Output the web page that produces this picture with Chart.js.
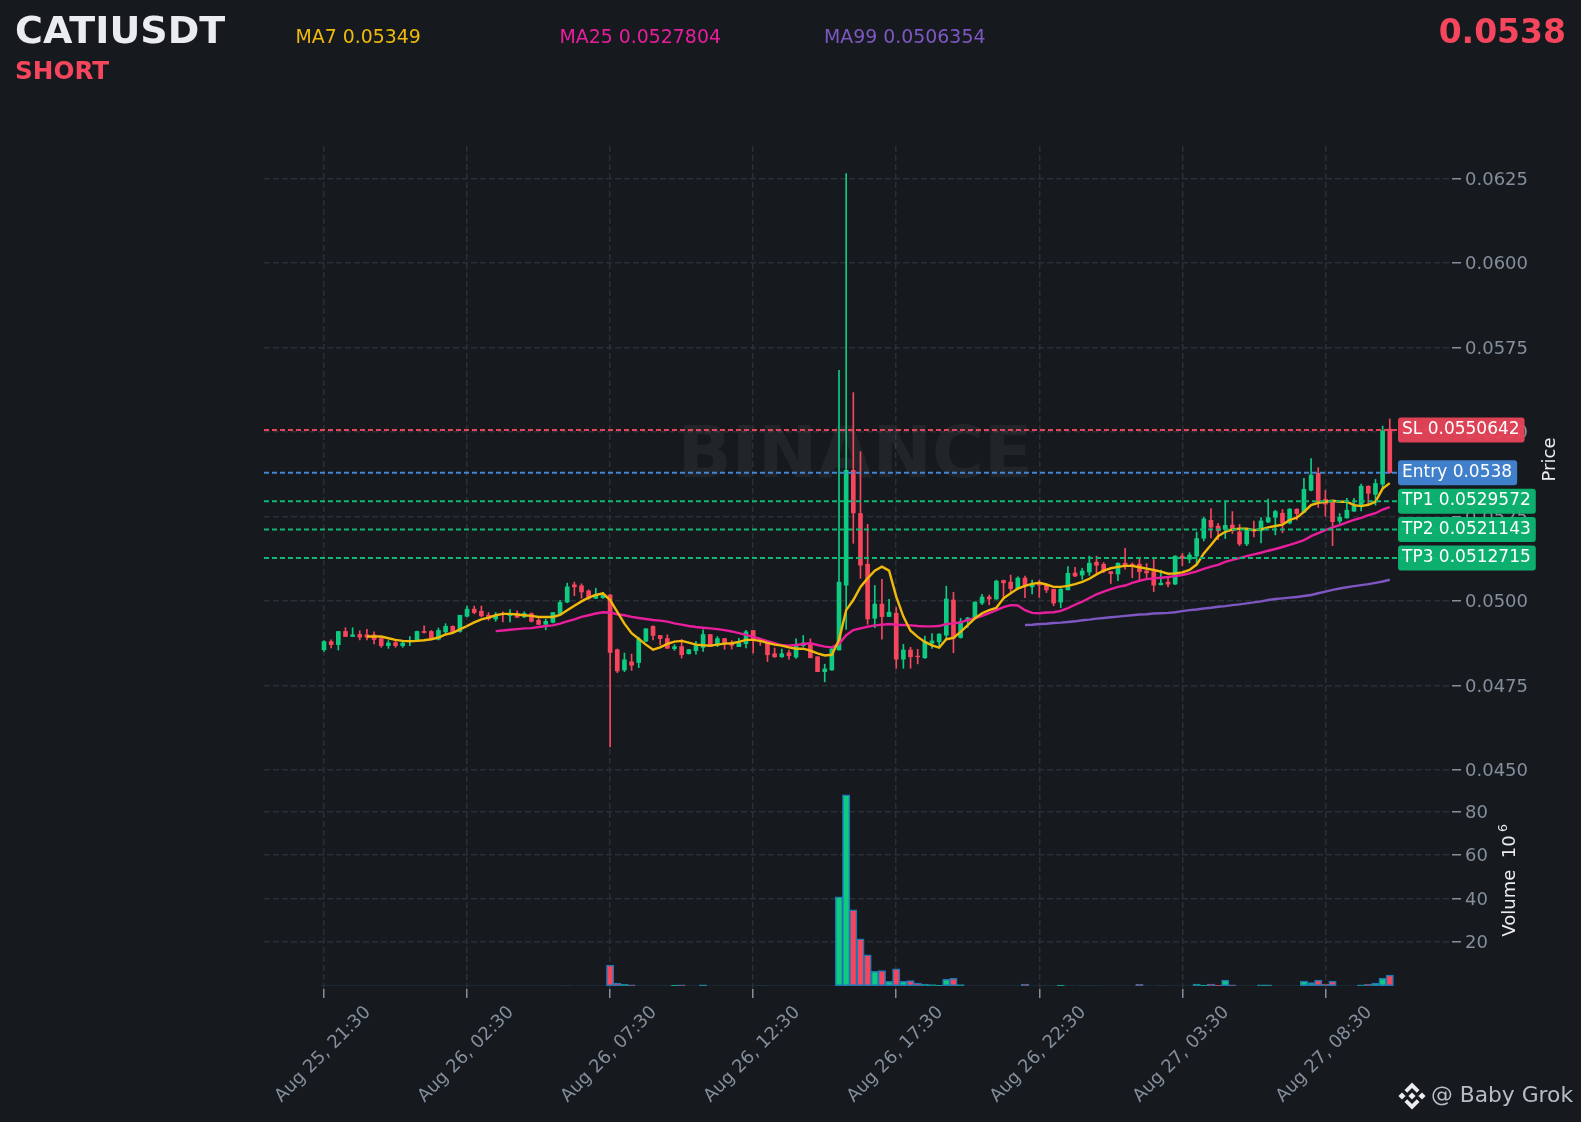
<!DOCTYPE html>
<html>
<head>
<meta charset="utf-8">
<title>CATIUSDT</title>
<script src="https://cdn.jsdelivr.net/npm/chart.js@4"></script>
<style>
    html, body { margin: 0; padding: 0; background: #161a1e; }
    #wrap { position: relative; width: 1581px; height: 1122px; overflow: hidden; font-family: "DejaVu Sans", sans-serif; }
    canvas { position: absolute; left: 0; top: 0; }
    .head { position: absolute; white-space: nowrap; line-height: 1; }
</style>
</head>
<body>
<div id="wrap">
    <canvas id="plot" width="1581" height="1122"></canvas>
    <div class="head" style="left:15px;top:10.5px;font-size:38px;font-weight:bold;color:#eaecef">CATIUSDT</div>
    <div class="head" style="left:15px;top:59px;font-size:24.7px;font-weight:bold;color:#f6465d">SHORT</div>
    <div class="head" style="left:295.5px;top:26.5px;font-size:18.9px;color:#f0b90b">MA7 0.05349</div>
    <div class="head" style="left:559.5px;top:26.5px;font-size:18.9px;color:#e91e9c">MA25 0.0527804</div>
    <div class="head" style="left:824px;top:26.5px;font-size:18.9px;color:#7e57c2">MA99 0.0506354</div>
    <div class="head" style="right:15px;top:15px;font-size:33px;font-weight:bold;color:#f6465d">0.0538</div>
</div>
<script>
const tickLabels = ['Aug 25, 21:30', 'Aug 26, 02:30', 'Aug 26, 07:30', 'Aug 26, 12:30',
    'Aug 26, 17:30', 'Aug 26, 22:30', 'Aug 27, 03:30', 'Aug 27, 08:30'];
const priceTicks = [0.045, 0.0475, 0.05, 0.0525, 0.055, 0.0575, 0.06, 0.0625];
const volumeTicks = [20, 40, 60, 80];

const opens = [
    0.04856,0.04880,0.04871,0.04910,0.04895,0.04901,0.04900,0.04900,0.04889,0.04868,
    0.04877,0.04868,0.04881,0.04883,0.04910,0.04910,0.04887,0.04909,0.04925,0.04910,
    0.04955,0.04976,0.04970,0.04958,0.04947,0.04963,0.04957,0.04963,0.04953,0.04963,
    0.04943,0.04931,0.04937,0.04963,0.04997,0.05048,0.05045,0.05030,0.05008,0.05010,
    0.05018,0.04856,0.04796,0.04820,0.04818,0.04881,0.04925,0.04898,0.04889,0.04859,
    0.04865,0.04844,0.04853,0.04863,0.04901,0.04870,0.04889,0.04873,0.04865,0.04874,
    0.04913,0.04885,0.04875,0.04844,0.04835,0.04847,0.04834,0.04868,0.04876,0.04835,
    0.04791,0.04796,0.04855,0.05047,0.05387,0.05259,0.05109,0.04949,0.04991,0.04954,
    0.04964,0.04828,0.04855,0.04837,0.04832,0.04875,0.04879,0.04899,0.05003,0.04892,
    0.04945,0.04949,0.04994,0.05012,0.05006,0.05061,0.05056,0.05037,0.05068,0.05042,
    0.05049,0.05047,0.05035,0.04997,0.05033,0.05083,0.05077,0.05086,0.05115,0.05109,
    0.05087,0.05080,0.05112,0.05109,0.05109,0.05089,0.05087,0.05048,0.05056,0.05050,
    0.05133,0.05124,0.05133,0.05186,0.05239,0.05222,0.05212,0.05225,0.05205,0.05169,
    0.05210,0.05208,0.05234,0.05248,0.05260,0.05231,0.05272,0.05263,0.05328,0.05378,
    0.05301,0.05292,0.05237,0.05246,0.05266,0.05279,0.05340,0.05316,0.05346,0.05509];
const closes = [
    0.04880,0.04871,0.04910,0.04895,0.04900,0.04893,0.04893,0.04886,0.04868,0.04876,
    0.04868,0.04876,0.04883,0.04910,0.04907,0.04890,0.04913,0.04925,0.04908,0.04958,
    0.04976,0.04966,0.04956,0.04948,0.04957,0.04960,0.04961,0.04952,0.04963,0.04940,
    0.04931,0.04940,0.04966,0.04996,0.05042,0.05042,0.05027,0.05008,0.05020,0.05018,
    0.04848,0.04793,0.04826,0.04810,0.04888,0.04918,0.04898,0.04889,0.04860,0.04865,
    0.04841,0.04856,0.04868,0.04901,0.04865,0.04889,0.04873,0.04869,0.04875,0.04909,
    0.04884,0.04880,0.04841,0.04835,0.04844,0.04838,0.04868,0.04876,0.04832,0.04791,
    0.04799,0.04858,0.05056,0.05387,0.05261,0.05106,0.04947,0.04991,0.04954,0.04967,
    0.04828,0.04855,0.04835,0.04835,0.04880,0.04882,0.04902,0.05006,0.04890,0.04939,
    0.04950,0.04997,0.05012,0.05006,0.05059,0.05054,0.05037,0.05068,0.05045,0.05049,
    0.05047,0.05033,0.04994,0.05035,0.05082,0.05074,0.05089,0.05112,0.05106,0.05088,
    0.05081,0.05112,0.05106,0.05107,0.05087,0.05083,0.05047,0.05053,0.05050,0.05133,
    0.05126,0.05136,0.05185,0.05243,0.05219,0.05208,0.05224,0.05208,0.05169,0.05210,
    0.05207,0.05237,0.05247,0.05265,0.05231,0.05272,0.05259,0.05331,0.05373,0.05291,
    0.05287,0.05235,0.05248,0.05269,0.05282,0.05340,0.05319,0.05348,0.05504,0.05380];
const highs = [
    0.04883,0.04885,0.04910,0.04921,0.04921,0.04912,0.04916,0.04909,0.04895,0.04883,
    0.04883,0.04883,0.04895,0.04911,0.04927,0.04913,0.04920,0.04933,0.04927,0.04958,
    0.04985,0.04985,0.04985,0.04966,0.04966,0.04968,0.04975,0.04971,0.04968,0.04965,
    0.04948,0.04947,0.04966,0.05002,0.05053,0.05056,0.05051,0.05033,0.05038,0.05026,
    0.05020,0.04858,0.04846,0.04843,0.04893,0.04918,0.04927,0.04898,0.04900,0.04871,
    0.04886,0.04857,0.04881,0.04915,0.04901,0.04895,0.04889,0.04883,0.04890,0.04913,
    0.04913,0.04887,0.04875,0.04861,0.04858,0.04855,0.04888,0.04898,0.04888,0.04835,
    0.04813,0.04860,0.05683,0.06265,0.05617,0.05442,0.05227,0.05046,0.05064,0.05005,
    0.04981,0.04872,0.04863,0.04857,0.04896,0.04904,0.04904,0.05044,0.05026,0.04949,
    0.04952,0.04998,0.05020,0.05018,0.05062,0.05062,0.05077,0.05072,0.05074,0.05062,
    0.05062,0.05047,0.05035,0.05037,0.05102,0.05100,0.05097,0.05133,0.05133,0.05114,
    0.05088,0.05113,0.05156,0.05113,0.05126,0.05111,0.05123,0.05092,0.05069,0.05134,
    0.05141,0.05143,0.05204,0.05248,0.05274,0.05230,0.05296,0.05265,0.05227,0.05212,
    0.05237,0.05247,0.05302,0.05269,0.05271,0.05274,0.05273,0.05363,0.05422,0.05395,
    0.05328,0.05292,0.05259,0.05304,0.05304,0.05346,0.05341,0.05360,0.05518,0.05539];
const lows = [
    0.04851,0.04861,0.04855,0.04895,0.04895,0.04885,0.04885,0.04873,0.04863,0.04860,
    0.04863,0.04863,0.04868,0.04882,0.04905,0.04888,0.04885,0.04903,0.04906,0.04908,
    0.04953,0.04962,0.04953,0.04943,0.04940,0.04938,0.04938,0.04951,0.04951,0.04938,
    0.04930,0.04915,0.04935,0.04963,0.04995,0.05016,0.05008,0.05005,0.05008,0.05008,
    0.04568,0.04788,0.04791,0.04795,0.04803,0.04880,0.04885,0.04870,0.04860,0.04854,
    0.04831,0.04843,0.04843,0.04851,0.04865,0.04865,0.04857,0.04858,0.04865,0.04861,
    0.04846,0.04869,0.04821,0.04833,0.04833,0.04827,0.04830,0.04865,0.04832,0.04791,
    0.04761,0.04795,0.04855,0.04916,0.05171,0.05067,0.04931,0.04921,0.04887,0.04954,
    0.04801,0.04801,0.04801,0.04814,0.04830,0.04860,0.04865,0.04887,0.04847,0.04890,
    0.04922,0.04947,0.04989,0.04989,0.05005,0.05006,0.05028,0.05035,0.05010,0.05021,
    0.05011,0.05025,0.04986,0.04980,0.05033,0.05072,0.05064,0.05076,0.05084,0.05084,
    0.05052,0.05060,0.05094,0.05069,0.05062,0.05067,0.05028,0.05048,0.05042,0.05049,
    0.05104,0.05113,0.05111,0.05178,0.05187,0.05182,0.05185,0.05200,0.05164,0.05164,
    0.05190,0.05172,0.05232,0.05196,0.05202,0.05228,0.05240,0.05262,0.05326,0.05277,
    0.05251,0.05164,0.05230,0.05245,0.05265,0.05267,0.05289,0.05284,0.05333,0.05378];
// volume in millions
const volumes = [
    .02,.1,.02,.02,.02,.02,.02,.02,.02,.02,
    .02,.02,.02,.02,.02,.02,.02,.02,.02,.02,
    .02,.02,.02,.02,.02,.02,.02,.02,.02,.02,
    .02,.02,.02,.1,.2,.02,.02,.02,.02,.02,
    9.5,1.2,.6,.4,.1,.1,.1,.1,.1,.3,
    .4,.1,.1,.4,.02,.02,.02,.02,.02,.02,
    .1,.2,.1,.02,.02,.02,.02,.02,.02,.02,
    .1,.1,40.8,87.6,34.8,21.5,14.2,6.6,6.9,2.0,
    7.8,2,2.4,1.2,.8,.5,.3,2.9,3.4,.5,
    .02,.02,.02,.02,.02,.1,.1,.1,.8,.1,
    .1,.2,.1,.3,.1,.02,.2,.2,.2,.02,
    .02,.02,.02,.02,.6,.1,.02,.2,.02,.02,
    .02,.1,.8,.3,.8,.3,2.6,.4,.1,.02,
    .02,.4,.4,.02,.02,.02,.02,2.1,1.5,2.6,
    .8,2.1,.02,.02,.02,.4,.8,1.2,3.4,4.9];

const ma7 = [null,null,null,null,null,null,
    0.04895,0.04895,0.04895,0.04890,0.04885,0.04882,0.04881,0.04882,0.04884,0.04887,0.04892,0.04901,0.04906,0.04916,
    0.04926,0.04937,0.04946,0.04951,0.04958,0.04962,0.04962,0.04960,0.04958,0.04956,
    0.04953,0.04953,0.04953,0.04959,0.04973,0.04986,0.04999,0.05010,0.05018,0.05023,
    0.05003,0.04968,0.04933,0.04905,0.04888,0.04871,0.04856,0.04863,0.04873,0.04880,
    0.04882,0.04877,0.04871,0.04869,0.04868,0.04871,0.04874,0.04875,0.04879,0.04885,
    0.04885,0.04882,0.04876,0.04871,0.04868,0.04863,0.04859,0.04859,0.04853,0.04845,
    0.04839,0.04841,0.04885,0.04973,0.05003,0.05042,0.05067,0.05090,0.05102,0.05090,
    0.05013,0.04954,0.04912,0.04894,0.04879,0.04869,0.04862,0.04887,0.04891,0.04909,
    0.04929,0.04949,0.04964,0.04973,0.04980,0.05008,0.05023,0.05037,0.05045,0.05051,
    0.05054,0.05049,0.05042,0.05042,0.05045,0.05050,0.05057,0.05066,0.05079,0.05090,
    0.05097,0.05101,0.05104,0.05104,0.05100,0.05096,0.05092,0.05087,0.05081,0.05082,
    0.05085,0.05092,0.05108,0.05141,0.05166,0.05192,0.05205,0.05212,0.05214,0.05214,
    0.05210,0.05212,0.05218,0.05222,0.05226,0.05240,0.05247,0.05264,0.05284,0.05291,
    0.05294,0.05297,0.05294,0.05294,0.05284,0.05281,0.05285,0.05294,0.05333,0.05349];
const ma25 = [null,null,null,null,null,null,null,null,null,null,
    null,null,null,null,null,null,null,null,null,null,null,null,null,null,
    0.04911,0.04913,0.04915,0.04917,0.04919,0.04920,
    0.04923,0.04926,0.04928,0.04933,0.04940,0.04946,0.04953,0.04958,0.04963,0.04967,
    0.04966,0.04961,0.04958,0.04953,0.04950,0.04947,0.04944,0.04942,0.04939,0.04934,
    0.04930,0.04926,0.04923,0.04921,0.04919,0.04917,0.04914,0.04910,0.04905,0.04900,
    0.04894,0.04888,0.04881,0.04875,0.04869,0.04868,0.04870,0.04873,0.04875,0.04870,
    0.04865,0.04863,0.04873,0.04899,0.04914,0.04919,0.04924,0.04928,0.04930,0.04932,
    0.04930,0.04929,0.04928,0.04926,0.04925,0.04925,0.04926,0.04932,0.04934,0.04937,
    0.04944,0.04949,0.04956,0.04964,0.04973,0.04982,0.04988,0.04987,0.04973,0.04965,
    0.04964,0.04966,0.04967,0.04971,0.04979,0.04989,0.04998,0.05009,0.05020,0.05028,
    0.05035,0.05042,0.05046,0.05054,0.05060,0.05065,0.05067,0.05069,0.05071,0.05074,
    0.05077,0.05082,0.05088,0.05095,0.05102,0.05107,0.05116,0.05122,0.05127,0.05133,
    0.05138,0.05143,0.05149,0.05154,0.05160,0.05166,0.05173,0.05180,0.05192,0.05201,
    0.05210,0.05218,0.05225,0.05233,0.05240,0.05246,0.05254,0.05260,0.05271,0.05278];
const ma99 = [
    null,null,null,null,null,null,null,null,null,null,null,null,null,null,null,null,null,null,null,null,
    null,null,null,null,null,null,null,null,null,null,null,null,null,null,null,null,null,null,null,null,
    null,null,null,null,null,null,null,null,null,null,null,null,null,null,null,null,null,null,null,null,
    null,null,null,null,null,null,null,null,null,null,null,null,null,null,null,null,null,null,null,null,
    null,null,null,null,null,null,null,null,null,null,null,null,null,null,null,null,null,null,
    0.04929,0.04930,
    0.04932,0.04933,0.04935,0.04936,0.04938,0.04940,0.04943,0.04945,0.04948,0.04950,
    0.04952,0.04954,0.04956,0.04958,0.04960,0.04961,0.04963,0.04964,0.04965,0.04967,
    0.04970,0.04973,0.04975,0.04978,0.04980,0.04983,0.04985,0.04988,0.04990,0.04993,
    0.04996,0.04999,0.05003,0.05006,0.05008,0.05010,0.05012,0.05015,0.05018,0.05023,
    0.05028,0.05033,0.05037,0.05041,0.05044,0.05047,0.05050,0.05054,0.05058,0.05063];

const levelValues = [0.0550642, 0.0538, 0.0529572, 0.0521143, 0.0512715];
const levelNames = ['SL 0.0550642', 'Entry 0.0538', 'TP1 0.0529572', 'TP2 0.0521143', 'TP3 0.0512715'];
const levelColors = ['#e8435a', '#4285d4', '#0db774', '#0db774', '#0db774'];

const UP = '#0ecb81', DOWN = '#f6465d', DIM = '#1b3447';
const candleColors = closes.map((c, i) => (c >= opens[i] ? UP : DOWN));
const xMin = -8.39, xMax = 157.7, levelEnd = 156;

function toPoints(values) {
    return values.map((v, i) => ({ x: i, y: v }));
}

function maLine(label, values, color) {
    return { type: 'line', label: label, data: toPoints(values), borderColor: color, borderWidth: 2.4,
        pointRadius: 0, spanGaps: false, yAxisID: 'y', order: 0 };
}

const levelDatasets = levelValues.map((v, i) => ({
    type: 'line', label: levelNames[i], data: [{ x: xMin, y: v }, { x: levelEnd, y: v }],
    borderColor: levelColors[i], borderWidth: 2, borderDash: [5, 3], pointRadius: 0, yAxisID: 'y', order: 0
}));

const overlay = {
    id: 'overlay',
    beforeDatasetsDraw(chart) {
        const ctx = chart.ctx;
        ctx.save();
        ctx.font = 'bold 71px "DejaVu Sans"';
        ctx.fillStyle = 'rgba(255,255,255,0.05)';
        ctx.textAlign = 'center';
        ctx.textBaseline = 'middle';
        ctx.fillText('BINANCE', 855, 459);
        ctx.restore();
    },
    afterDraw(chart) {
        const ctx = chart.ctx, py = chart.scales.y, vy = chart.scales.volume;
        ctx.save();
        ctx.textBaseline = 'middle';
        // price level tags
        ctx.font = '17px "DejaVu Sans"';
        levelValues.forEach((v, i) => {
            const mid = py.getPixelForValue(v), w = ctx.measureText(levelNames[i]).width + 9;
            ctx.globalAlpha = 0.95;
            ctx.fillStyle = levelColors[i];
            ctx.beginPath();
            ctx.roundRect(1398, mid - 12.5, w, 25, 3);
            ctx.fill();
            ctx.globalAlpha = 1;
            ctx.fillStyle = '#ffffff';
            ctx.textAlign = 'left';
            ctx.fillText(levelNames[i], 1402, mid - 0.5);
        });
        // axis titles
        ctx.fillStyle = '#eaecef';
        ctx.font = '18px "DejaVu Sans"';
        ctx.textAlign = 'center';
        ctx.save();
        ctx.translate(1550, (py.top + py.bottom) / 2);
        ctx.rotate(-Math.PI / 2);
        ctx.fillText('Price', 0, 0);
        ctx.restore();
        ctx.save();
        ctx.translate(1510, (vy.top + vy.bottom) / 2);
        ctx.rotate(-Math.PI / 2);
        ctx.fillText('Volume  10', -5, 0);
        ctx.font = '12.5px "DejaVu Sans"';
        ctx.fillText('6', 53, -6);
        ctx.restore();
        // signature
        ctx.fillStyle = '#b7bdc6';
        ctx.font = '21.8px "DejaVu Sans"';
        ctx.textAlign = 'left';
        ctx.fillText('@ Baby Grok', 1431, 1096);
        ctx.fillStyle = '#eaecef';
        ctx.translate(1412, 1096);
        const diamond = (x, y, r) => {
            ctx.beginPath();
            ctx.moveTo(x, y - r); ctx.lineTo(x + r, y); ctx.lineTo(x, y + r); ctx.lineTo(x - r, y);
            ctx.closePath();
            ctx.fill();
        };
        diamond(0, 0, 3.6);
        diamond(-10, 0, 3.6);
        diamond(10, 0, 3.6);
        [1, -1].forEach(s => {
            ctx.beginPath();
            ctx.moveTo(0, -13.5 * s); ctx.lineTo(7.5, -6 * s); ctx.lineTo(4.8, -3.3 * s);
            ctx.lineTo(0, -8.1 * s); ctx.lineTo(-4.8, -3.3 * s); ctx.lineTo(-7.5, -6 * s);
            ctx.closePath();
            ctx.fill();
        });
        ctx.restore();
    }
};

const gridStyle = { color: '#2a2f36', lineWidth: 1.5, tickColor: '#848e9c', tickLength: 9, tickWidth: 1.5,
    tickBorderDash: [], drawTicks: true, offset: false };
const gridBorder = { display: false, dash: [6, 3] };
const tickFont = { family: '"DejaVu Sans"', size: 18 };

new Chart(document.getElementById('plot').getContext('2d'), {
    data: {
        datasets: [
            ...levelDatasets,
            maLine('MA7', ma7, '#f0b90b'),
            maLine('MA25', ma25, '#e91e9c'),
            maLine('MA99', ma99, '#7e57c2'),
            {
                type: 'bar', label: 'body', data: opens.map((o, i) => ({ x: i, y: [o, closes[i]] })),
                backgroundColor: candleColors, barThickness: 4, grouped: false, yAxisID: 'y', order: 1
            },
            {
                type: 'bar', label: 'wick', data: lows.map((l, i) => ({ x: i, y: [l, highs[i]] })),
                backgroundColor: candleColors, barThickness: 1, grouped: false, yAxisID: 'y', order: 2
            },
            {
                type: 'bar', label: 'Volume', data: toPoints(volumes),
                // the near-empty bars only show as a dark line along the bottom
                backgroundColor: volumes.map((v, i) => (v < 0.25 ? DIM : candleColors[i])),
                borderColor: volumes.map(v => (v < 0.25 ? DIM : '#1f77b4')),
                borderWidth: 1.5, borderSkipped: false,
                barThickness: 7.4, grouped: false, yAxisID: 'volume', order: 3
            }
        ]
    },
    options: {
        responsive: false,
        animation: false,
        layout: { padding: { left: 264, right: 54, top: 146, bottom: 0 } },
        plugins: { legend: { display: false }, tooltip: { enabled: false } },
        scales: {
            x: {
                type: 'linear',
                offset: false,
                min: xMin,
                max: xMax,
                afterBuildTicks: axis => { axis.ticks = tickLabels.map((_, i) => ({ value: i * 20 })); },
                afterFit: axis => { axis.height = 133; },
                grid: gridStyle,
                border: gridBorder,
                ticks: {
                    color: '#848e9c', font: tickFont, minRotation: 45, maxRotation: 45, labelOffset: 44, padding: 4,
                    callback: value => tickLabels[value / 20]
                }
            },
            y: {
                type: 'linear',
                position: 'right',
                stack: 'right',
                stackWeight: 627,
                min: 0.04491,
                max: 0.06347,
                afterBuildTicks: axis => { axis.ticks = priceTicks.map(v => ({ value: v })); },
                afterFit: axis => { axis.width = 75; },
                grid: gridStyle,
                border: gridBorder,
                ticks: { color: '#848e9c', font: tickFont, padding: 4, labelOffset: 1.5, callback: value => value.toFixed(4) }
            },
            volume: {
                type: 'linear',
                position: 'right',
                stack: 'right',
                stackWeight: 216,
                min: -1.5,
                max: 97.6,
                afterBuildTicks: axis => { axis.ticks = volumeTicks.map(v => ({ value: v })); },
                afterFit: axis => { axis.width = 75; },
                grid: gridStyle,
                border: gridBorder,
                ticks: { color: '#848e9c', font: tickFont, padding: 4, labelOffset: 1.5, callback: value => String(value) }
            }
        }
    },
    plugins: [overlay]
});
</script>
</body>
</html>
